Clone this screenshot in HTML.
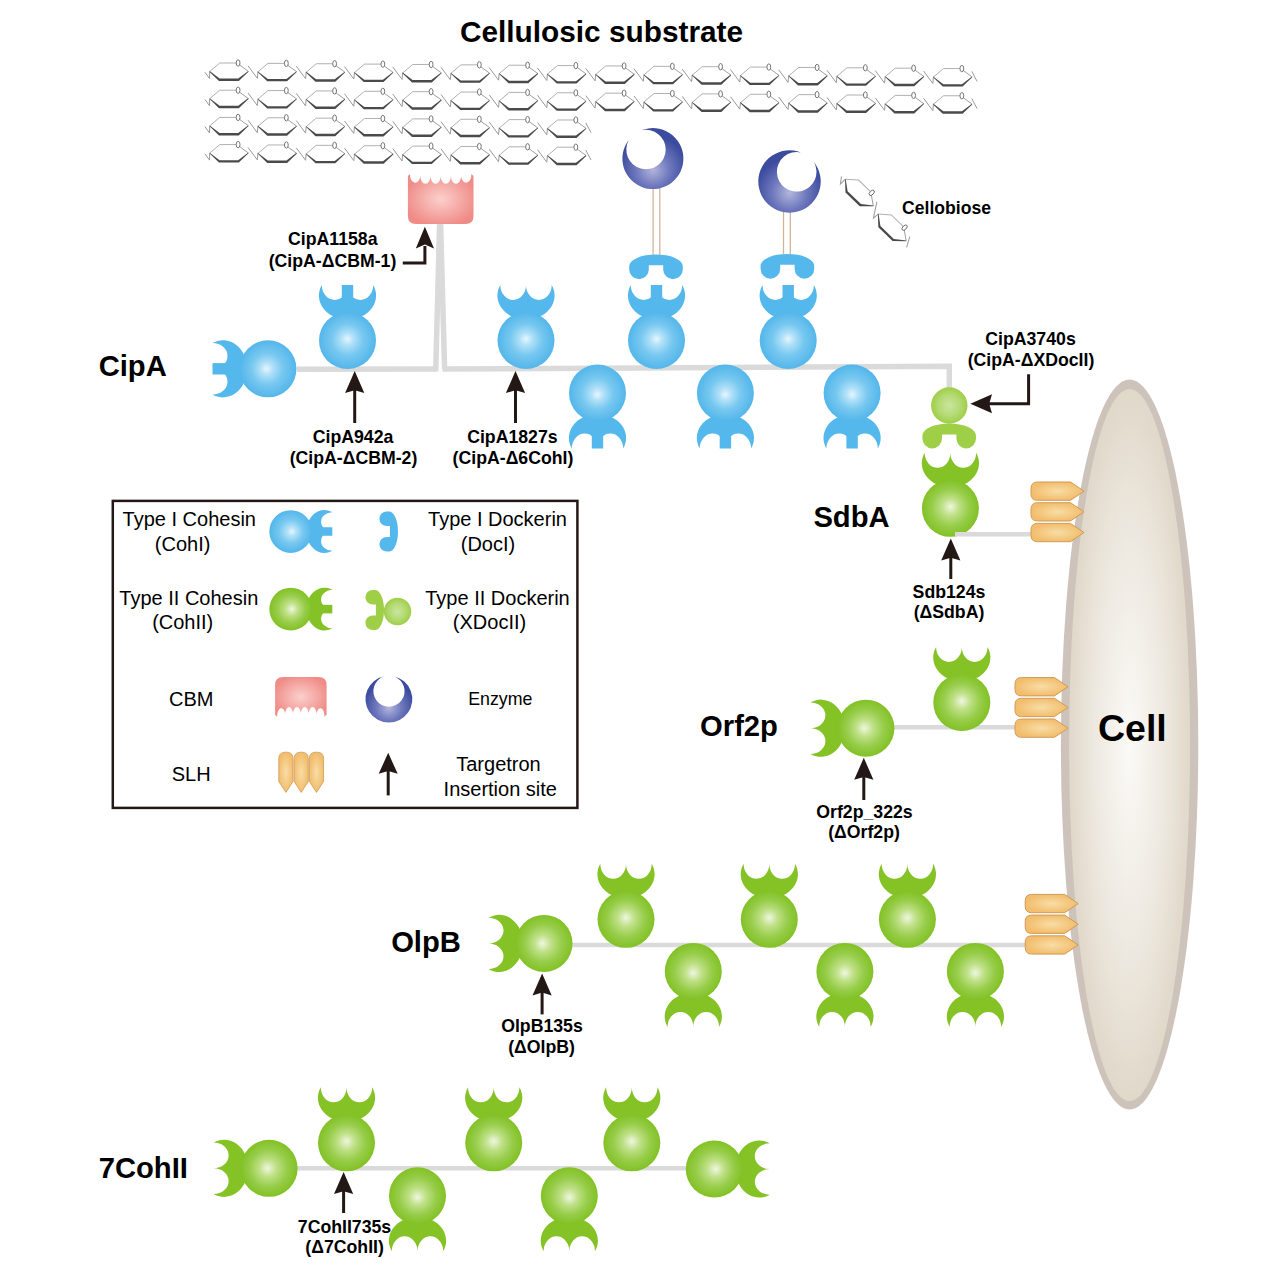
<!DOCTYPE html>
<html><head><meta charset="utf-8"><style>html,body{margin:0;padding:0;background:#fff;font-family:"Liberation Sans",sans-serif}svg{display:block}svg text{font-family:"Liberation Sans",sans-serif}</style></head>
<body><svg width="1267" height="1267" viewBox="0 0 1267 1267" font-family="Liberation Sans, sans-serif">

<defs>
<radialGradient id="gBlue" cx="0.5" cy="0.5" r="0.5" fx="0.5" fy="0.47">
  <stop offset="0" stop-color="#e6f6fe"/>
  <stop offset="0.22" stop-color="#b0e0f8"/>
  <stop offset="0.55" stop-color="#78c8f0"/>
  <stop offset="1" stop-color="#53b6ea"/>
</radialGradient>
<radialGradient id="gGreen" cx="0.5" cy="0.5" r="0.5" fx="0.5" fy="0.47">
  <stop offset="0" stop-color="#eef7e0"/>
  <stop offset="0.3" stop-color="#bfe087"/>
  <stop offset="0.65" stop-color="#97cd4a"/>
  <stop offset="1" stop-color="#82c125"/>
</radialGradient>
<radialGradient id="gX" cx="0.5" cy="0.5" r="0.5">
  <stop offset="0" stop-color="#cbe5a0"/>
  <stop offset="0.6" stop-color="#b3da72"/>
  <stop offset="1" stop-color="#9fce47"/>
</radialGradient>
<radialGradient id="gEnz1" cx="0.5" cy="0.68" r="0.55">
  <stop offset="0" stop-color="#b3b6dc"/>
  <stop offset="0.5" stop-color="#6e78bd"/>
  <stop offset="1" stop-color="#3b4b9e"/>
</radialGradient>
<radialGradient id="gCBM" cx="0.5" cy="0.5" r="0.55">
  <stop offset="0" stop-color="#fbd0cc"/>
  <stop offset="1" stop-color="#f08c88"/>
</radialGradient>
<radialGradient id="gSLH" cx="0.5" cy="0.5" r="0.5">
  <stop offset="0" stop-color="#f8dda6"/>
  <stop offset="1" stop-color="#f2bd6c"/>
</radialGradient>
<radialGradient id="gCell" cx="0.5" cy="0.5" r="0.5">
  <stop offset="0" stop-color="#fbfaf7"/>
  <stop offset="0.6" stop-color="#ede8df"/>
  <stop offset="1" stop-color="#e0d8c9"/>
</radialGradient>
</defs>

<rect width="1267" height="1267" fill="#fff"/>
<text x="601.5" y="42.3" font-size="29.8" font-weight="bold" text-anchor="middle" fill="#000">Cellulosic substrate</text>
<path d="M 204.89999999999998,72.2 L 209.5,78.5 L 209.7,71.5" fill="none" stroke="#9a9a9a" stroke-width="1"/>
<path d="M 209.7,71.5 L 219.7,63.0 L 236.1,63.0" fill="none" stroke="#b0b0b0" stroke-width="1"/><path d="M 239.6,65.0 L 248.29999999999998,71.3" fill="none" stroke="#a0a0a0" stroke-width="1"/><ellipse cx="238.1" cy="63.0" rx="1.9" ry="3.2" fill="none" stroke="#666" stroke-width="0.9"/><path d="M 209.7,71.1 L 219.6,78.6 L 238.2,78.6 L 248.29999999999998,70.89999999999999 L 248.49999999999997,71.7 L 238.79999999999998,81.0 L 219.0,81.0 L 209.6,71.9 Z" fill="#4a4a4a"/>
<path d="M 247.99999999999997,65.8 L 257.29999999999995,78.3 L 258.0,71.3" fill="none" stroke="#9a9a9a" stroke-width="1"/>
<path d="M 257.95,71.87 L 267.95,63.370000000000005 L 284.34999999999997,63.370000000000005" fill="none" stroke="#b0b0b0" stroke-width="1"/><path d="M 287.84999999999997,65.37 L 296.55,71.67" fill="none" stroke="#a0a0a0" stroke-width="1"/><ellipse cx="286.34999999999997" cy="63.370000000000005" rx="1.9" ry="3.2" fill="none" stroke="#666" stroke-width="0.9"/><path d="M 257.95,71.47 L 267.84999999999997,78.97 L 286.45,78.97 L 296.55,71.27 L 296.75,72.07000000000001 L 287.04999999999995,81.37 L 267.25,81.37 L 257.84999999999997,72.27000000000001 Z" fill="#4a4a4a"/>
<path d="M 296.25,66.17 L 305.55,78.67 L 306.25,71.67" fill="none" stroke="#9a9a9a" stroke-width="1"/>
<path d="M 306.2,72.24 L 316.2,63.739999999999995 L 332.59999999999997,63.739999999999995" fill="none" stroke="#b0b0b0" stroke-width="1"/><path d="M 336.09999999999997,65.74 L 344.8,72.03999999999999" fill="none" stroke="#a0a0a0" stroke-width="1"/><ellipse cx="334.59999999999997" cy="63.739999999999995" rx="1.9" ry="3.2" fill="none" stroke="#666" stroke-width="0.9"/><path d="M 306.2,71.83999999999999 L 316.09999999999997,79.33999999999999 L 334.7,79.33999999999999 L 344.8,71.63999999999999 L 345.0,72.44 L 335.29999999999995,81.74 L 315.5,81.74 L 306.09999999999997,72.64 Z" fill="#4a4a4a"/>
<path d="M 344.5,66.53999999999999 L 353.8,79.03999999999999 L 354.5,72.03999999999999" fill="none" stroke="#9a9a9a" stroke-width="1"/>
<path d="M 354.45,72.61 L 364.45,64.11 L 380.84999999999997,64.11" fill="none" stroke="#b0b0b0" stroke-width="1"/><path d="M 384.34999999999997,66.11 L 393.05,72.41" fill="none" stroke="#a0a0a0" stroke-width="1"/><ellipse cx="382.84999999999997" cy="64.11" rx="1.9" ry="3.2" fill="none" stroke="#666" stroke-width="0.9"/><path d="M 354.45,72.21 L 364.34999999999997,79.71 L 382.95,79.71 L 393.05,72.00999999999999 L 393.25,72.81 L 383.54999999999995,82.11 L 363.75,82.11 L 354.34999999999997,73.01 Z" fill="#4a4a4a"/>
<path d="M 392.75,66.91 L 402.05,79.41 L 402.75,72.41" fill="none" stroke="#9a9a9a" stroke-width="1"/>
<path d="M 402.7,72.98 L 412.7,64.48 L 429.09999999999997,64.48" fill="none" stroke="#b0b0b0" stroke-width="1"/><path d="M 432.59999999999997,66.48 L 441.3,72.78" fill="none" stroke="#a0a0a0" stroke-width="1"/><ellipse cx="431.09999999999997" cy="64.48" rx="1.9" ry="3.2" fill="none" stroke="#666" stroke-width="0.9"/><path d="M 402.7,72.58 L 412.59999999999997,80.08 L 431.2,80.08 L 441.3,72.38 L 441.5,73.18 L 431.79999999999995,82.48 L 412.0,82.48 L 402.59999999999997,73.38000000000001 Z" fill="#4a4a4a"/>
<path d="M 441.0,67.28 L 450.3,79.78 L 451.0,72.78" fill="none" stroke="#9a9a9a" stroke-width="1"/>
<path d="M 450.95,73.35 L 460.95,64.85 L 477.34999999999997,64.85" fill="none" stroke="#b0b0b0" stroke-width="1"/><path d="M 480.84999999999997,66.85 L 489.55,73.14999999999999" fill="none" stroke="#a0a0a0" stroke-width="1"/><ellipse cx="479.34999999999997" cy="64.85" rx="1.9" ry="3.2" fill="none" stroke="#666" stroke-width="0.9"/><path d="M 450.95,72.94999999999999 L 460.84999999999997,80.44999999999999 L 479.45,80.44999999999999 L 489.55,72.74999999999999 L 489.75,73.55 L 480.04999999999995,82.85 L 460.25,82.85 L 450.84999999999997,73.75 Z" fill="#4a4a4a"/>
<path d="M 489.25,67.64999999999999 L 498.55,80.14999999999999 L 499.25,73.14999999999999" fill="none" stroke="#9a9a9a" stroke-width="1"/>
<path d="M 499.2,73.72 L 509.2,65.22 L 525.6,65.22" fill="none" stroke="#b0b0b0" stroke-width="1"/><path d="M 529.1,67.22 L 537.8,73.52" fill="none" stroke="#a0a0a0" stroke-width="1"/><ellipse cx="527.6" cy="65.22" rx="1.9" ry="3.2" fill="none" stroke="#666" stroke-width="0.9"/><path d="M 499.2,73.32 L 509.09999999999997,80.82 L 527.7,80.82 L 537.8,73.11999999999999 L 538.0,73.92 L 528.3000000000001,83.22 L 508.5,83.22 L 499.09999999999997,74.12 Z" fill="#4a4a4a"/>
<path d="M 537.5,68.02 L 546.8,80.52 L 547.5,73.52" fill="none" stroke="#9a9a9a" stroke-width="1"/>
<path d="M 547.45,74.09 L 557.45,65.59 L 573.85,65.59" fill="none" stroke="#b0b0b0" stroke-width="1"/><path d="M 577.35,67.59 L 586.0500000000001,73.89" fill="none" stroke="#a0a0a0" stroke-width="1"/><ellipse cx="575.85" cy="65.59" rx="1.9" ry="3.2" fill="none" stroke="#666" stroke-width="0.9"/><path d="M 547.45,73.69 L 557.35,81.19 L 575.95,81.19 L 586.0500000000001,73.49 L 586.2500000000001,74.29 L 576.5500000000001,83.59 L 556.75,83.59 L 547.35,74.49000000000001 Z" fill="#4a4a4a"/>
<path d="M 585.7500000000001,68.39 L 595.0500000000001,80.89 L 595.7500000000001,73.89" fill="none" stroke="#9a9a9a" stroke-width="1"/>
<path d="M 595.7,74.46 L 605.7,65.96 L 622.1,65.96" fill="none" stroke="#b0b0b0" stroke-width="1"/><path d="M 625.6,67.96 L 634.3000000000001,74.25999999999999" fill="none" stroke="#a0a0a0" stroke-width="1"/><ellipse cx="624.1" cy="65.96" rx="1.9" ry="3.2" fill="none" stroke="#666" stroke-width="0.9"/><path d="M 595.7,74.05999999999999 L 605.6,81.55999999999999 L 624.2,81.55999999999999 L 634.3000000000001,73.85999999999999 L 634.5000000000001,74.66 L 624.8000000000001,83.96 L 605.0,83.96 L 595.6,74.86 Z" fill="#4a4a4a"/>
<path d="M 634.0000000000001,68.75999999999999 L 643.3000000000001,81.25999999999999 L 644.0000000000001,74.25999999999999" fill="none" stroke="#9a9a9a" stroke-width="1"/>
<path d="M 643.95,74.83 L 653.95,66.33 L 670.35,66.33" fill="none" stroke="#b0b0b0" stroke-width="1"/><path d="M 673.85,68.33 L 682.5500000000001,74.63" fill="none" stroke="#a0a0a0" stroke-width="1"/><ellipse cx="672.35" cy="66.33" rx="1.9" ry="3.2" fill="none" stroke="#666" stroke-width="0.9"/><path d="M 643.95,74.42999999999999 L 653.85,81.92999999999999 L 672.45,81.92999999999999 L 682.5500000000001,74.22999999999999 L 682.7500000000001,75.03 L 673.0500000000001,84.33 L 653.25,84.33 L 643.85,75.23 Z" fill="#4a4a4a"/>
<path d="M 682.2500000000001,69.13 L 691.5500000000001,81.63 L 692.2500000000001,74.63" fill="none" stroke="#9a9a9a" stroke-width="1"/>
<path d="M 692.2,75.2 L 702.2,66.7 L 718.6,66.7" fill="none" stroke="#b0b0b0" stroke-width="1"/><path d="M 722.1,68.7 L 730.8000000000001,75.0" fill="none" stroke="#a0a0a0" stroke-width="1"/><ellipse cx="720.6" cy="66.7" rx="1.9" ry="3.2" fill="none" stroke="#666" stroke-width="0.9"/><path d="M 692.2,74.8 L 702.1,82.3 L 720.7,82.3 L 730.8000000000001,74.6 L 731.0000000000001,75.4 L 721.3000000000001,84.7 L 701.5,84.7 L 692.1,75.60000000000001 Z" fill="#4a4a4a"/>
<path d="M 730.5000000000001,69.5 L 739.8000000000001,82.0 L 740.5000000000001,75.0" fill="none" stroke="#9a9a9a" stroke-width="1"/>
<path d="M 740.45,75.57 L 750.45,67.07 L 766.85,67.07" fill="none" stroke="#b0b0b0" stroke-width="1"/><path d="M 770.35,69.07 L 779.0500000000001,75.36999999999999" fill="none" stroke="#a0a0a0" stroke-width="1"/><ellipse cx="768.85" cy="67.07" rx="1.9" ry="3.2" fill="none" stroke="#666" stroke-width="0.9"/><path d="M 740.45,75.16999999999999 L 750.35,82.66999999999999 L 768.95,82.66999999999999 L 779.0500000000001,74.96999999999998 L 779.2500000000001,75.77 L 769.5500000000001,85.07 L 749.75,85.07 L 740.35,75.97 Z" fill="#4a4a4a"/>
<path d="M 778.7500000000001,69.86999999999999 L 788.0500000000001,82.36999999999999 L 788.7500000000001,75.36999999999999" fill="none" stroke="#9a9a9a" stroke-width="1"/>
<path d="M 788.7,75.94 L 798.7,67.44 L 815.1,67.44" fill="none" stroke="#b0b0b0" stroke-width="1"/><path d="M 818.6,69.44 L 827.3000000000001,75.74" fill="none" stroke="#a0a0a0" stroke-width="1"/><ellipse cx="817.1" cy="67.44" rx="1.9" ry="3.2" fill="none" stroke="#666" stroke-width="0.9"/><path d="M 788.7,75.53999999999999 L 798.6,83.03999999999999 L 817.2,83.03999999999999 L 827.3000000000001,75.33999999999999 L 827.5000000000001,76.14 L 817.8000000000001,85.44 L 798.0,85.44 L 788.6,76.34 Z" fill="#4a4a4a"/>
<path d="M 827.0000000000001,70.24 L 836.3000000000001,82.74 L 837.0000000000001,75.74" fill="none" stroke="#9a9a9a" stroke-width="1"/>
<path d="M 836.95,76.31 L 846.95,67.81 L 863.35,67.81" fill="none" stroke="#b0b0b0" stroke-width="1"/><path d="M 866.85,69.81 L 875.5500000000001,76.11" fill="none" stroke="#a0a0a0" stroke-width="1"/><ellipse cx="865.35" cy="67.81" rx="1.9" ry="3.2" fill="none" stroke="#666" stroke-width="0.9"/><path d="M 836.95,75.91 L 846.85,83.41 L 865.45,83.41 L 875.5500000000001,75.71 L 875.7500000000001,76.51 L 866.0500000000001,85.81 L 846.25,85.81 L 836.85,76.71000000000001 Z" fill="#4a4a4a"/>
<path d="M 875.2500000000001,70.61 L 884.5500000000001,83.11 L 885.2500000000001,76.11" fill="none" stroke="#9a9a9a" stroke-width="1"/>
<path d="M 885.2,76.68 L 895.2,68.18 L 911.6,68.18" fill="none" stroke="#b0b0b0" stroke-width="1"/><path d="M 915.1,70.18 L 923.8000000000001,76.48" fill="none" stroke="#a0a0a0" stroke-width="1"/><ellipse cx="913.6" cy="68.18" rx="1.9" ry="3.2" fill="none" stroke="#666" stroke-width="0.9"/><path d="M 885.2,76.28 L 895.1,83.78 L 913.7,83.78 L 923.8000000000001,76.08 L 924.0000000000001,76.88000000000001 L 914.3000000000001,86.18 L 894.5,86.18 L 885.1,77.08000000000001 Z" fill="#4a4a4a"/>
<path d="M 923.5000000000001,70.98 L 932.8000000000001,83.48 L 933.5000000000001,76.48" fill="none" stroke="#9a9a9a" stroke-width="1"/>
<path d="M 933.45,77.05 L 943.45,68.55 L 959.85,68.55" fill="none" stroke="#b0b0b0" stroke-width="1"/><path d="M 963.35,70.55 L 972.0500000000001,76.85" fill="none" stroke="#a0a0a0" stroke-width="1"/><ellipse cx="961.85" cy="68.55" rx="1.9" ry="3.2" fill="none" stroke="#666" stroke-width="0.9"/><path d="M 933.45,76.64999999999999 L 943.35,84.14999999999999 L 961.95,84.14999999999999 L 972.0500000000001,76.44999999999999 L 972.2500000000001,77.25 L 962.5500000000001,86.55 L 942.75,86.55 L 933.35,77.45 Z" fill="#4a4a4a"/>
<path d="M 971.7500000000001,71.35 L 977.0500000000001,81.35" fill="none" stroke="#9a9a9a" stroke-width="1"/>
<path d="M 204.89999999999998,99.4 L 209.5,105.7 L 209.7,98.7" fill="none" stroke="#9a9a9a" stroke-width="1"/>
<path d="M 209.7,98.7 L 219.7,90.2 L 236.1,90.2" fill="none" stroke="#b0b0b0" stroke-width="1"/><path d="M 239.6,92.2 L 248.29999999999998,98.5" fill="none" stroke="#a0a0a0" stroke-width="1"/><ellipse cx="238.1" cy="90.2" rx="1.9" ry="3.2" fill="none" stroke="#666" stroke-width="0.9"/><path d="M 209.7,98.3 L 219.6,105.8 L 238.2,105.8 L 248.29999999999998,98.1 L 248.49999999999997,98.9 L 238.79999999999998,108.2 L 219.0,108.2 L 209.6,99.10000000000001 Z" fill="#4a4a4a"/>
<path d="M 247.99999999999997,93.0 L 257.29999999999995,105.5 L 258.0,98.5" fill="none" stroke="#9a9a9a" stroke-width="1"/>
<path d="M 257.95,99.07000000000001 L 267.95,90.57000000000001 L 284.34999999999997,90.57000000000001" fill="none" stroke="#b0b0b0" stroke-width="1"/><path d="M 287.84999999999997,92.57000000000001 L 296.55,98.87" fill="none" stroke="#a0a0a0" stroke-width="1"/><ellipse cx="286.34999999999997" cy="90.57000000000001" rx="1.9" ry="3.2" fill="none" stroke="#666" stroke-width="0.9"/><path d="M 257.95,98.67 L 267.84999999999997,106.17 L 286.45,106.17 L 296.55,98.47 L 296.75,99.27000000000001 L 287.04999999999995,108.57000000000001 L 267.25,108.57000000000001 L 257.84999999999997,99.47000000000001 Z" fill="#4a4a4a"/>
<path d="M 296.25,93.37 L 305.55,105.87 L 306.25,98.87" fill="none" stroke="#9a9a9a" stroke-width="1"/>
<path d="M 306.2,99.44 L 316.2,90.94 L 332.59999999999997,90.94" fill="none" stroke="#b0b0b0" stroke-width="1"/><path d="M 336.09999999999997,92.94 L 344.8,99.24" fill="none" stroke="#a0a0a0" stroke-width="1"/><ellipse cx="334.59999999999997" cy="90.94" rx="1.9" ry="3.2" fill="none" stroke="#666" stroke-width="0.9"/><path d="M 306.2,99.03999999999999 L 316.09999999999997,106.53999999999999 L 334.7,106.53999999999999 L 344.8,98.83999999999999 L 345.0,99.64 L 335.29999999999995,108.94 L 315.5,108.94 L 306.09999999999997,99.84 Z" fill="#4a4a4a"/>
<path d="M 344.5,93.74 L 353.8,106.24 L 354.5,99.24" fill="none" stroke="#9a9a9a" stroke-width="1"/>
<path d="M 354.45,99.81 L 364.45,91.31 L 380.84999999999997,91.31" fill="none" stroke="#b0b0b0" stroke-width="1"/><path d="M 384.34999999999997,93.31 L 393.05,99.61" fill="none" stroke="#a0a0a0" stroke-width="1"/><ellipse cx="382.84999999999997" cy="91.31" rx="1.9" ry="3.2" fill="none" stroke="#666" stroke-width="0.9"/><path d="M 354.45,99.41 L 364.34999999999997,106.91 L 382.95,106.91 L 393.05,99.21 L 393.25,100.01 L 383.54999999999995,109.31 L 363.75,109.31 L 354.34999999999997,100.21000000000001 Z" fill="#4a4a4a"/>
<path d="M 392.75,94.11 L 402.05,106.61 L 402.75,99.61" fill="none" stroke="#9a9a9a" stroke-width="1"/>
<path d="M 402.7,100.18 L 412.7,91.68 L 429.09999999999997,91.68" fill="none" stroke="#b0b0b0" stroke-width="1"/><path d="M 432.59999999999997,93.68 L 441.3,99.98" fill="none" stroke="#a0a0a0" stroke-width="1"/><ellipse cx="431.09999999999997" cy="91.68" rx="1.9" ry="3.2" fill="none" stroke="#666" stroke-width="0.9"/><path d="M 402.7,99.78 L 412.59999999999997,107.28 L 431.2,107.28 L 441.3,99.58 L 441.5,100.38000000000001 L 431.79999999999995,109.68 L 412.0,109.68 L 402.59999999999997,100.58000000000001 Z" fill="#4a4a4a"/>
<path d="M 441.0,94.48 L 450.3,106.98 L 451.0,99.98" fill="none" stroke="#9a9a9a" stroke-width="1"/>
<path d="M 450.95,100.55 L 460.95,92.05 L 477.34999999999997,92.05" fill="none" stroke="#b0b0b0" stroke-width="1"/><path d="M 480.84999999999997,94.05 L 489.55,100.35" fill="none" stroke="#a0a0a0" stroke-width="1"/><ellipse cx="479.34999999999997" cy="92.05" rx="1.9" ry="3.2" fill="none" stroke="#666" stroke-width="0.9"/><path d="M 450.95,100.14999999999999 L 460.84999999999997,107.64999999999999 L 479.45,107.64999999999999 L 489.55,99.94999999999999 L 489.75,100.75 L 480.04999999999995,110.05 L 460.25,110.05 L 450.84999999999997,100.95 Z" fill="#4a4a4a"/>
<path d="M 489.25,94.85 L 498.55,107.35 L 499.25,100.35" fill="none" stroke="#9a9a9a" stroke-width="1"/>
<path d="M 499.2,100.92 L 509.2,92.42 L 525.6,92.42" fill="none" stroke="#b0b0b0" stroke-width="1"/><path d="M 529.1,94.42 L 537.8,100.72" fill="none" stroke="#a0a0a0" stroke-width="1"/><ellipse cx="527.6" cy="92.42" rx="1.9" ry="3.2" fill="none" stroke="#666" stroke-width="0.9"/><path d="M 499.2,100.52 L 509.09999999999997,108.02 L 527.7,108.02 L 537.8,100.32 L 538.0,101.12 L 528.3000000000001,110.42 L 508.5,110.42 L 499.09999999999997,101.32000000000001 Z" fill="#4a4a4a"/>
<path d="M 537.5,95.22 L 546.8,107.72 L 547.5,100.72" fill="none" stroke="#9a9a9a" stroke-width="1"/>
<path d="M 547.45,101.29 L 557.45,92.79 L 573.85,92.79" fill="none" stroke="#b0b0b0" stroke-width="1"/><path d="M 577.35,94.79 L 586.0500000000001,101.09" fill="none" stroke="#a0a0a0" stroke-width="1"/><ellipse cx="575.85" cy="92.79" rx="1.9" ry="3.2" fill="none" stroke="#666" stroke-width="0.9"/><path d="M 547.45,100.89 L 557.35,108.39 L 575.95,108.39 L 586.0500000000001,100.69 L 586.2500000000001,101.49000000000001 L 576.5500000000001,110.79 L 556.75,110.79 L 547.35,101.69000000000001 Z" fill="#4a4a4a"/>
<path d="M 585.7500000000001,95.59 L 595.0500000000001,108.09 L 595.7500000000001,101.09" fill="none" stroke="#9a9a9a" stroke-width="1"/>
<path d="M 595.7,101.66 L 605.7,93.16 L 622.1,93.16" fill="none" stroke="#b0b0b0" stroke-width="1"/><path d="M 625.6,95.16 L 634.3000000000001,101.46" fill="none" stroke="#a0a0a0" stroke-width="1"/><ellipse cx="624.1" cy="93.16" rx="1.9" ry="3.2" fill="none" stroke="#666" stroke-width="0.9"/><path d="M 595.7,101.25999999999999 L 605.6,108.75999999999999 L 624.2,108.75999999999999 L 634.3000000000001,101.05999999999999 L 634.5000000000001,101.86 L 624.8000000000001,111.16 L 605.0,111.16 L 595.6,102.06 Z" fill="#4a4a4a"/>
<path d="M 634.0000000000001,95.96 L 643.3000000000001,108.46 L 644.0000000000001,101.46" fill="none" stroke="#9a9a9a" stroke-width="1"/>
<path d="M 643.95,102.03 L 653.95,93.53 L 670.35,93.53" fill="none" stroke="#b0b0b0" stroke-width="1"/><path d="M 673.85,95.53 L 682.5500000000001,101.83" fill="none" stroke="#a0a0a0" stroke-width="1"/><ellipse cx="672.35" cy="93.53" rx="1.9" ry="3.2" fill="none" stroke="#666" stroke-width="0.9"/><path d="M 643.95,101.63 L 653.85,109.13 L 672.45,109.13 L 682.5500000000001,101.42999999999999 L 682.7500000000001,102.23 L 673.0500000000001,111.53 L 653.25,111.53 L 643.85,102.43 Z" fill="#4a4a4a"/>
<path d="M 682.2500000000001,96.33 L 691.5500000000001,108.83 L 692.2500000000001,101.83" fill="none" stroke="#9a9a9a" stroke-width="1"/>
<path d="M 692.2,102.4 L 702.2,93.9 L 718.6,93.9" fill="none" stroke="#b0b0b0" stroke-width="1"/><path d="M 722.1,95.9 L 730.8000000000001,102.2" fill="none" stroke="#a0a0a0" stroke-width="1"/><ellipse cx="720.6" cy="93.9" rx="1.9" ry="3.2" fill="none" stroke="#666" stroke-width="0.9"/><path d="M 692.2,102.0 L 702.1,109.5 L 720.7,109.5 L 730.8000000000001,101.8 L 731.0000000000001,102.60000000000001 L 721.3000000000001,111.9 L 701.5,111.9 L 692.1,102.80000000000001 Z" fill="#4a4a4a"/>
<path d="M 730.5000000000001,96.7 L 739.8000000000001,109.2 L 740.5000000000001,102.2" fill="none" stroke="#9a9a9a" stroke-width="1"/>
<path d="M 740.45,102.77000000000001 L 750.45,94.27000000000001 L 766.85,94.27000000000001" fill="none" stroke="#b0b0b0" stroke-width="1"/><path d="M 770.35,96.27000000000001 L 779.0500000000001,102.57000000000001" fill="none" stroke="#a0a0a0" stroke-width="1"/><ellipse cx="768.85" cy="94.27000000000001" rx="1.9" ry="3.2" fill="none" stroke="#666" stroke-width="0.9"/><path d="M 740.45,102.37 L 750.35,109.87 L 768.95,109.87 L 779.0500000000001,102.17 L 779.2500000000001,102.97000000000001 L 769.5500000000001,112.27000000000001 L 749.75,112.27000000000001 L 740.35,103.17000000000002 Z" fill="#4a4a4a"/>
<path d="M 778.7500000000001,97.07000000000001 L 788.0500000000001,109.57000000000001 L 788.7500000000001,102.57000000000001" fill="none" stroke="#9a9a9a" stroke-width="1"/>
<path d="M 788.7,103.14 L 798.7,94.64 L 815.1,94.64" fill="none" stroke="#b0b0b0" stroke-width="1"/><path d="M 818.6,96.64 L 827.3000000000001,102.94" fill="none" stroke="#a0a0a0" stroke-width="1"/><ellipse cx="817.1" cy="94.64" rx="1.9" ry="3.2" fill="none" stroke="#666" stroke-width="0.9"/><path d="M 788.7,102.74 L 798.6,110.24 L 817.2,110.24 L 827.3000000000001,102.53999999999999 L 827.5000000000001,103.34 L 817.8000000000001,112.64 L 798.0,112.64 L 788.6,103.54 Z" fill="#4a4a4a"/>
<path d="M 827.0000000000001,97.44 L 836.3000000000001,109.94 L 837.0000000000001,102.94" fill="none" stroke="#9a9a9a" stroke-width="1"/>
<path d="M 836.95,103.51 L 846.95,95.01 L 863.35,95.01" fill="none" stroke="#b0b0b0" stroke-width="1"/><path d="M 866.85,97.01 L 875.5500000000001,103.31" fill="none" stroke="#a0a0a0" stroke-width="1"/><ellipse cx="865.35" cy="95.01" rx="1.9" ry="3.2" fill="none" stroke="#666" stroke-width="0.9"/><path d="M 836.95,103.11 L 846.85,110.61 L 865.45,110.61 L 875.5500000000001,102.91 L 875.7500000000001,103.71000000000001 L 866.0500000000001,113.01 L 846.25,113.01 L 836.85,103.91000000000001 Z" fill="#4a4a4a"/>
<path d="M 875.2500000000001,97.81 L 884.5500000000001,110.31 L 885.2500000000001,103.31" fill="none" stroke="#9a9a9a" stroke-width="1"/>
<path d="M 885.2,103.88 L 895.2,95.38 L 911.6,95.38" fill="none" stroke="#b0b0b0" stroke-width="1"/><path d="M 915.1,97.38 L 923.8000000000001,103.67999999999999" fill="none" stroke="#a0a0a0" stroke-width="1"/><ellipse cx="913.6" cy="95.38" rx="1.9" ry="3.2" fill="none" stroke="#666" stroke-width="0.9"/><path d="M 885.2,103.47999999999999 L 895.1,110.97999999999999 L 913.7,110.97999999999999 L 923.8000000000001,103.27999999999999 L 924.0000000000001,104.08 L 914.3000000000001,113.38 L 894.5,113.38 L 885.1,104.28 Z" fill="#4a4a4a"/>
<path d="M 923.5000000000001,98.17999999999999 L 932.8000000000001,110.67999999999999 L 933.5000000000001,103.67999999999999" fill="none" stroke="#9a9a9a" stroke-width="1"/>
<path d="M 933.45,104.25 L 943.45,95.75 L 959.85,95.75" fill="none" stroke="#b0b0b0" stroke-width="1"/><path d="M 963.35,97.75 L 972.0500000000001,104.05" fill="none" stroke="#a0a0a0" stroke-width="1"/><ellipse cx="961.85" cy="95.75" rx="1.9" ry="3.2" fill="none" stroke="#666" stroke-width="0.9"/><path d="M 933.45,103.85 L 943.35,111.35 L 961.95,111.35 L 972.0500000000001,103.64999999999999 L 972.2500000000001,104.45 L 962.5500000000001,113.75 L 942.75,113.75 L 933.35,104.65 Z" fill="#4a4a4a"/>
<path d="M 971.7500000000001,98.55 L 977.0500000000001,108.55" fill="none" stroke="#9a9a9a" stroke-width="1"/>
<path d="M 204.89999999999998,126.60000000000001 L 209.5,132.9 L 209.7,125.9" fill="none" stroke="#9a9a9a" stroke-width="1"/>
<path d="M 209.7,125.9 L 219.7,117.4 L 236.1,117.4" fill="none" stroke="#b0b0b0" stroke-width="1"/><path d="M 239.6,119.4 L 248.29999999999998,125.7" fill="none" stroke="#a0a0a0" stroke-width="1"/><ellipse cx="238.1" cy="117.4" rx="1.9" ry="3.2" fill="none" stroke="#666" stroke-width="0.9"/><path d="M 209.7,125.5 L 219.6,133.00000000000003 L 238.2,133.00000000000003 L 248.29999999999998,125.3 L 248.49999999999997,126.10000000000001 L 238.79999999999998,135.4 L 219.0,135.4 L 209.6,126.30000000000001 Z" fill="#4a4a4a"/>
<path d="M 247.99999999999997,120.2 L 257.29999999999995,132.7 L 258.0,125.7" fill="none" stroke="#9a9a9a" stroke-width="1"/>
<path d="M 257.95,126.27000000000001 L 267.95,117.77000000000001 L 284.34999999999997,117.77000000000001" fill="none" stroke="#b0b0b0" stroke-width="1"/><path d="M 287.84999999999997,119.77000000000001 L 296.55,126.07000000000001" fill="none" stroke="#a0a0a0" stroke-width="1"/><ellipse cx="286.34999999999997" cy="117.77000000000001" rx="1.9" ry="3.2" fill="none" stroke="#666" stroke-width="0.9"/><path d="M 257.95,125.87 L 267.84999999999997,133.37000000000003 L 286.45,133.37000000000003 L 296.55,125.67 L 296.75,126.47000000000001 L 287.04999999999995,135.77 L 267.25,135.77 L 257.84999999999997,126.67000000000002 Z" fill="#4a4a4a"/>
<path d="M 296.25,120.57000000000001 L 305.55,133.07 L 306.25,126.07000000000001" fill="none" stroke="#9a9a9a" stroke-width="1"/>
<path d="M 306.2,126.64 L 316.2,118.14 L 332.59999999999997,118.14" fill="none" stroke="#b0b0b0" stroke-width="1"/><path d="M 336.09999999999997,120.14 L 344.8,126.44" fill="none" stroke="#a0a0a0" stroke-width="1"/><ellipse cx="334.59999999999997" cy="118.14" rx="1.9" ry="3.2" fill="none" stroke="#666" stroke-width="0.9"/><path d="M 306.2,126.24 L 316.09999999999997,133.74 L 334.7,133.74 L 344.8,126.03999999999999 L 345.0,126.84 L 335.29999999999995,136.14 L 315.5,136.14 L 306.09999999999997,127.04 Z" fill="#4a4a4a"/>
<path d="M 344.5,120.94 L 353.8,133.44 L 354.5,126.44" fill="none" stroke="#9a9a9a" stroke-width="1"/>
<path d="M 354.45,127.01 L 364.45,118.51 L 380.84999999999997,118.51" fill="none" stroke="#b0b0b0" stroke-width="1"/><path d="M 384.34999999999997,120.51 L 393.05,126.81" fill="none" stroke="#a0a0a0" stroke-width="1"/><ellipse cx="382.84999999999997" cy="118.51" rx="1.9" ry="3.2" fill="none" stroke="#666" stroke-width="0.9"/><path d="M 354.45,126.61 L 364.34999999999997,134.11 L 382.95,134.11 L 393.05,126.41 L 393.25,127.21000000000001 L 383.54999999999995,136.51 L 363.75,136.51 L 354.34999999999997,127.41000000000001 Z" fill="#4a4a4a"/>
<path d="M 392.75,121.31 L 402.05,133.81 L 402.75,126.81" fill="none" stroke="#9a9a9a" stroke-width="1"/>
<path d="M 402.7,127.38000000000001 L 412.7,118.88000000000001 L 429.09999999999997,118.88000000000001" fill="none" stroke="#b0b0b0" stroke-width="1"/><path d="M 432.59999999999997,120.88000000000001 L 441.3,127.18" fill="none" stroke="#a0a0a0" stroke-width="1"/><ellipse cx="431.09999999999997" cy="118.88000000000001" rx="1.9" ry="3.2" fill="none" stroke="#666" stroke-width="0.9"/><path d="M 402.7,126.98 L 412.59999999999997,134.48000000000002 L 431.2,134.48000000000002 L 441.3,126.78 L 441.5,127.58000000000001 L 431.79999999999995,136.88 L 412.0,136.88 L 402.59999999999997,127.78000000000002 Z" fill="#4a4a4a"/>
<path d="M 441.0,121.68 L 450.3,134.18 L 451.0,127.18" fill="none" stroke="#9a9a9a" stroke-width="1"/>
<path d="M 450.95,127.75 L 460.95,119.25 L 477.34999999999997,119.25" fill="none" stroke="#b0b0b0" stroke-width="1"/><path d="M 480.84999999999997,121.25 L 489.55,127.55" fill="none" stroke="#a0a0a0" stroke-width="1"/><ellipse cx="479.34999999999997" cy="119.25" rx="1.9" ry="3.2" fill="none" stroke="#666" stroke-width="0.9"/><path d="M 450.95,127.35 L 460.84999999999997,134.85000000000002 L 479.45,134.85000000000002 L 489.55,127.14999999999999 L 489.75,127.95 L 480.04999999999995,137.25 L 460.25,137.25 L 450.84999999999997,128.15 Z" fill="#4a4a4a"/>
<path d="M 489.25,122.05 L 498.55,134.55 L 499.25,127.55" fill="none" stroke="#9a9a9a" stroke-width="1"/>
<path d="M 499.2,128.12 L 509.2,119.62 L 525.6,119.62" fill="none" stroke="#b0b0b0" stroke-width="1"/><path d="M 529.1,121.62 L 537.8,127.92" fill="none" stroke="#a0a0a0" stroke-width="1"/><ellipse cx="527.6" cy="119.62" rx="1.9" ry="3.2" fill="none" stroke="#666" stroke-width="0.9"/><path d="M 499.2,127.72 L 509.09999999999997,135.22000000000003 L 527.7,135.22000000000003 L 537.8,127.52 L 538.0,128.32 L 528.3000000000001,137.62 L 508.5,137.62 L 499.09999999999997,128.52 Z" fill="#4a4a4a"/>
<path d="M 537.5,122.42 L 546.8,134.92000000000002 L 547.5,127.92" fill="none" stroke="#9a9a9a" stroke-width="1"/>
<path d="M 547.45,128.49 L 557.45,119.99000000000001 L 573.85,119.99000000000001" fill="none" stroke="#b0b0b0" stroke-width="1"/><path d="M 577.35,121.99000000000001 L 586.0500000000001,128.29000000000002" fill="none" stroke="#a0a0a0" stroke-width="1"/><ellipse cx="575.85" cy="119.99000000000001" rx="1.9" ry="3.2" fill="none" stroke="#666" stroke-width="0.9"/><path d="M 547.45,128.09 L 557.35,135.59000000000003 L 575.95,135.59000000000003 L 586.0500000000001,127.89000000000001 L 586.2500000000001,128.69000000000003 L 576.5500000000001,137.99 L 556.75,137.99 L 547.35,128.89000000000001 Z" fill="#4a4a4a"/>
<path d="M 585.7500000000001,122.79000000000002 L 591.0500000000001,132.79000000000002" fill="none" stroke="#9a9a9a" stroke-width="1"/>
<path d="M 204.89999999999998,153.79999999999998 L 209.5,160.1 L 209.7,153.1" fill="none" stroke="#9a9a9a" stroke-width="1"/>
<path d="M 209.7,153.1 L 219.7,144.6 L 236.1,144.6" fill="none" stroke="#b0b0b0" stroke-width="1"/><path d="M 239.6,146.6 L 248.29999999999998,152.9" fill="none" stroke="#a0a0a0" stroke-width="1"/><ellipse cx="238.1" cy="144.6" rx="1.9" ry="3.2" fill="none" stroke="#666" stroke-width="0.9"/><path d="M 209.7,152.7 L 219.6,160.20000000000002 L 238.2,160.20000000000002 L 248.29999999999998,152.5 L 248.49999999999997,153.3 L 238.79999999999998,162.6 L 219.0,162.6 L 209.6,153.5 Z" fill="#4a4a4a"/>
<path d="M 247.99999999999997,147.4 L 257.29999999999995,159.9 L 258.0,152.9" fill="none" stroke="#9a9a9a" stroke-width="1"/>
<path d="M 257.95,153.47 L 267.95,144.97 L 284.34999999999997,144.97" fill="none" stroke="#b0b0b0" stroke-width="1"/><path d="M 287.84999999999997,146.97 L 296.55,153.27" fill="none" stroke="#a0a0a0" stroke-width="1"/><ellipse cx="286.34999999999997" cy="144.97" rx="1.9" ry="3.2" fill="none" stroke="#666" stroke-width="0.9"/><path d="M 257.95,153.07 L 267.84999999999997,160.57000000000002 L 286.45,160.57000000000002 L 296.55,152.87 L 296.75,153.67000000000002 L 287.04999999999995,162.97 L 267.25,162.97 L 257.84999999999997,153.87 Z" fill="#4a4a4a"/>
<path d="M 296.25,147.77 L 305.55,160.27 L 306.25,153.27" fill="none" stroke="#9a9a9a" stroke-width="1"/>
<path d="M 306.2,153.84 L 316.2,145.34 L 332.59999999999997,145.34" fill="none" stroke="#b0b0b0" stroke-width="1"/><path d="M 336.09999999999997,147.34 L 344.8,153.64000000000001" fill="none" stroke="#a0a0a0" stroke-width="1"/><ellipse cx="334.59999999999997" cy="145.34" rx="1.9" ry="3.2" fill="none" stroke="#666" stroke-width="0.9"/><path d="M 306.2,153.44 L 316.09999999999997,160.94000000000003 L 334.7,160.94000000000003 L 344.8,153.24 L 345.0,154.04000000000002 L 335.29999999999995,163.34 L 315.5,163.34 L 306.09999999999997,154.24 Z" fill="#4a4a4a"/>
<path d="M 344.5,148.14000000000001 L 353.8,160.64000000000001 L 354.5,153.64000000000001" fill="none" stroke="#9a9a9a" stroke-width="1"/>
<path d="M 354.45,154.21 L 364.45,145.71 L 380.84999999999997,145.71" fill="none" stroke="#b0b0b0" stroke-width="1"/><path d="M 384.34999999999997,147.71 L 393.05,154.01000000000002" fill="none" stroke="#a0a0a0" stroke-width="1"/><ellipse cx="382.84999999999997" cy="145.71" rx="1.9" ry="3.2" fill="none" stroke="#666" stroke-width="0.9"/><path d="M 354.45,153.81 L 364.34999999999997,161.31000000000003 L 382.95,161.31000000000003 L 393.05,153.61 L 393.25,154.41000000000003 L 383.54999999999995,163.71 L 363.75,163.71 L 354.34999999999997,154.61 Z" fill="#4a4a4a"/>
<path d="M 392.75,148.51000000000002 L 402.05,161.01000000000002 L 402.75,154.01000000000002" fill="none" stroke="#9a9a9a" stroke-width="1"/>
<path d="M 402.7,154.57999999999998 L 412.7,146.07999999999998 L 429.09999999999997,146.07999999999998" fill="none" stroke="#b0b0b0" stroke-width="1"/><path d="M 432.59999999999997,148.07999999999998 L 441.3,154.38" fill="none" stroke="#a0a0a0" stroke-width="1"/><ellipse cx="431.09999999999997" cy="146.07999999999998" rx="1.9" ry="3.2" fill="none" stroke="#666" stroke-width="0.9"/><path d="M 402.7,154.17999999999998 L 412.59999999999997,161.68 L 431.2,161.68 L 441.3,153.98 L 441.5,154.78 L 431.79999999999995,164.07999999999998 L 412.0,164.07999999999998 L 402.59999999999997,154.98 Z" fill="#4a4a4a"/>
<path d="M 441.0,148.88 L 450.3,161.38 L 451.0,154.38" fill="none" stroke="#9a9a9a" stroke-width="1"/>
<path d="M 450.95,154.95 L 460.95,146.45 L 477.34999999999997,146.45" fill="none" stroke="#b0b0b0" stroke-width="1"/><path d="M 480.84999999999997,148.45 L 489.55,154.75" fill="none" stroke="#a0a0a0" stroke-width="1"/><ellipse cx="479.34999999999997" cy="146.45" rx="1.9" ry="3.2" fill="none" stroke="#666" stroke-width="0.9"/><path d="M 450.95,154.54999999999998 L 460.84999999999997,162.05 L 479.45,162.05 L 489.55,154.35 L 489.75,155.15 L 480.04999999999995,164.45 L 460.25,164.45 L 450.84999999999997,155.35 Z" fill="#4a4a4a"/>
<path d="M 489.25,149.25 L 498.55,161.75 L 499.25,154.75" fill="none" stroke="#9a9a9a" stroke-width="1"/>
<path d="M 499.2,155.32 L 509.2,146.82 L 525.6,146.82" fill="none" stroke="#b0b0b0" stroke-width="1"/><path d="M 529.1,148.82 L 537.8,155.12" fill="none" stroke="#a0a0a0" stroke-width="1"/><ellipse cx="527.6" cy="146.82" rx="1.9" ry="3.2" fill="none" stroke="#666" stroke-width="0.9"/><path d="M 499.2,154.92 L 509.09999999999997,162.42000000000002 L 527.7,162.42000000000002 L 537.8,154.72 L 538.0,155.52 L 528.3000000000001,164.82 L 508.5,164.82 L 499.09999999999997,155.72 Z" fill="#4a4a4a"/>
<path d="M 537.5,149.62 L 546.8,162.12 L 547.5,155.12" fill="none" stroke="#9a9a9a" stroke-width="1"/>
<path d="M 547.45,155.69 L 557.45,147.19 L 573.85,147.19" fill="none" stroke="#b0b0b0" stroke-width="1"/><path d="M 577.35,149.19 L 586.0500000000001,155.49" fill="none" stroke="#a0a0a0" stroke-width="1"/><ellipse cx="575.85" cy="147.19" rx="1.9" ry="3.2" fill="none" stroke="#666" stroke-width="0.9"/><path d="M 547.45,155.29 L 557.35,162.79000000000002 L 575.95,162.79000000000002 L 586.0500000000001,155.09 L 586.2500000000001,155.89000000000001 L 576.5500000000001,165.19 L 556.75,165.19 L 547.35,156.09 Z" fill="#4a4a4a"/>
<path d="M 585.7500000000001,149.99 L 591.0500000000001,159.99" fill="none" stroke="#9a9a9a" stroke-width="1"/>
<polyline points="297,369.3 436,369.1" fill="none" stroke="#dadada" stroke-width="5.5"/>
<line x1="435.7" y1="371.5" x2="439.6" y2="224" stroke="#dadada" stroke-width="5.5"/>
<line x1="444.6" y1="369" x2="440.6" y2="224" stroke="#dadada" stroke-width="5.5"/>
<polyline points="442.5,369 949.3,366.3 949.3,390" fill="none" stroke="#dadada" stroke-width="5.5"/>
<path d="M 407.9,176 L 410.09999999999997,174 A 5.1 7.4 0 0 0 420.29999999999995,176.3 A 5.1 7.4 0 0 0 430.49999999999994,176.3 A 5.1 7.4 0 0 0 440.7,176.3 A 5.1 7.4 0 0 0 450.9,176.3 A 5.1 7.4 0 0 0 461.09999999999997,176.3 A 5.1 7.4 0 0 0 471.29999999999995,174 L 473.5,176 L 473.5,216 Q 473.5,224 465.5,224 L 415.9,224 Q 407.9,224 407.9,216 Z" fill="url(#gCBM)"/>
<g transform="translate(268,368.8) rotate(-90) scale(1.0)"><path d="M -25.7,-55.5 A 12.85 15 0 0 0 0,-55.5 A 12.85 15 0 0 0 25.7,-55.5 A 28.6 24 0 1 1 -25.7,-55.5 Z" fill="#55b8ec"/><rect x="-5.7" y="-55.5" width="11.4" height="16" fill="#55b8ec"/><circle r="28.5" fill="url(#gBlue)"/></g>
<g transform="translate(347.5,340.5) rotate(0) scale(1.0)"><path d="M -25.7,-55.5 A 12.85 15 0 0 0 0,-55.5 A 12.85 15 0 0 0 25.7,-55.5 A 28.6 24 0 1 1 -25.7,-55.5 Z" fill="#55b8ec"/><rect x="-5.7" y="-55.5" width="11.4" height="16" fill="#55b8ec"/><circle r="28.5" fill="url(#gBlue)"/></g>
<g transform="translate(526,340.5) rotate(0) scale(1.0)"><path d="M -25.7,-55.5 A 12.85 15 0 0 0 0,-55.5 A 12.85 15 0 0 0 25.7,-55.5 A 28.6 24 0 1 1 -25.7,-55.5 Z" fill="#55b8ec"/><circle r="28.5" fill="url(#gBlue)"/></g>
<g transform="translate(656.5,340.5) rotate(0) scale(1.0)"><path d="M -25.7,-55.5 A 12.85 15 0 0 0 0,-55.5 A 12.85 15 0 0 0 25.7,-55.5 A 28.6 24 0 1 1 -25.7,-55.5 Z" fill="#55b8ec"/><rect x="-5.7" y="-55.5" width="11.4" height="16" fill="#55b8ec"/><circle r="28.5" fill="url(#gBlue)"/></g>
<g transform="translate(788.2,340.5) rotate(0) scale(1.0)"><path d="M -25.7,-55.5 A 12.85 15 0 0 0 0,-55.5 A 12.85 15 0 0 0 25.7,-55.5 A 28.6 24 0 1 1 -25.7,-55.5 Z" fill="#55b8ec"/><rect x="-5.7" y="-55.5" width="11.4" height="16" fill="#55b8ec"/><circle r="28.5" fill="url(#gBlue)"/></g>
<g transform="translate(597.5,393) rotate(180) scale(1.0)"><path d="M -25.7,-55.5 A 12.85 15 0 0 0 0,-55.5 A 12.85 15 0 0 0 25.7,-55.5 A 28.6 24 0 1 1 -25.7,-55.5 Z" fill="#55b8ec"/><rect x="-5.7" y="-55.5" width="11.4" height="16" fill="#55b8ec"/><circle r="28.5" fill="url(#gBlue)"/></g>
<g transform="translate(725.4,393) rotate(180) scale(1.0)"><path d="M -25.7,-55.5 A 12.85 15 0 0 0 0,-55.5 A 12.85 15 0 0 0 25.7,-55.5 A 28.6 24 0 1 1 -25.7,-55.5 Z" fill="#55b8ec"/><rect x="-5.7" y="-55.5" width="11.4" height="16" fill="#55b8ec"/><circle r="28.5" fill="url(#gBlue)"/></g>
<g transform="translate(852.1,393) rotate(180) scale(1.0)"><path d="M -25.7,-55.5 A 12.85 15 0 0 0 0,-55.5 A 12.85 15 0 0 0 25.7,-55.5 A 28.6 24 0 1 1 -25.7,-55.5 Z" fill="#55b8ec"/><rect x="-5.7" y="-55.5" width="11.4" height="16" fill="#55b8ec"/><circle r="28.5" fill="url(#gBlue)"/></g>
<g transform="translate(656,254.4) rotate(0) scale(1.0,1.0)"><path d="M -7.2,10.8 L 7.2,10.8 L 7.2,15 A 9.8 9.8 0 0 0 26.8,15 L 26.8,12 A 26.8 12 0 0 0 -26.8,12 L -26.8,15 A 9.8 9.8 0 0 0 -7.2,15 Z" fill="#55b8ec"/></g>
<g transform="translate(787.4,253.9) rotate(0) scale(1.0,1.0)"><path d="M -7.2,10.8 L 7.2,10.8 L 7.2,15 A 9.8 9.8 0 0 0 26.8,15 L 26.8,12 A 26.8 12 0 0 0 -26.8,12 L -26.8,15 A 9.8 9.8 0 0 0 -7.2,15 Z" fill="#55b8ec"/></g>
<line x1="653.1" y1="188" x2="653.1" y2="255" stroke="#d2b49b" stroke-width="1.3"/>
<line x1="659.8" y1="188" x2="659.8" y2="255" stroke="#d2b49b" stroke-width="1.3"/>
<line x1="783.5" y1="211" x2="783.5" y2="254" stroke="#d2b49b" stroke-width="1.3"/>
<line x1="790.3" y1="211" x2="790.3" y2="254" stroke="#d2b49b" stroke-width="1.3"/>
<path fill="url(#gEnz1)" d="M 641.44,130.34 A 30.5 30.5 0 1 1 628.78,139.94 A 19.7 19.7 0 1 0 641.44,130.34 Z"/>
<path fill="url(#gEnz1)" d="M 814.02,162.21 A 31.2 31.2 0 1 1 800.86,152.44 A 19.8 19.8 0 1 0 814.02,162.21 Z"/>
<g transform="translate(845.4,179.2) rotate(44)"><path d="M -4.8,0.7 L -0.2,7 L 0,0" fill="none" stroke="#9a9a9a" stroke-width="1"/><path d="M 0,0 L 10,-8.5 L 26.4,-8.5" fill="none" stroke="#b0b0b0" stroke-width="1"/><path d="M 29.9,-6.5 L 38.6,-0.2" fill="none" stroke="#a0a0a0" stroke-width="1"/><ellipse cx="28.4" cy="-8.5" rx="1.9" ry="3.2" fill="none" stroke="#666" stroke-width="0.9"/><path d="M 0,-0.4 L 9.9,7.1000000000000005 L 28.5,7.1000000000000005 L 38.6,-0.6000000000000001 L 38.800000000000004,0.2 L 29.099999999999998,9.5 L 9.3,9.5 L -0.1,0.4 Z" fill="#4a4a4a"/><path d="M 38.3,-5.7 L 47.2,8.6 L 47.85,2.26" fill="none" stroke="#9a9a9a" stroke-width="1"/><path d="M 47.85,2.26 L 57.85,-6.24 L 74.25,-6.24" fill="none" stroke="#b0b0b0" stroke-width="1"/><path d="M 77.75,-4.24 L 86.45,2.0599999999999996" fill="none" stroke="#a0a0a0" stroke-width="1"/><ellipse cx="76.25" cy="-6.24" rx="1.9" ry="3.2" fill="none" stroke="#666" stroke-width="0.9"/><path d="M 47.85,1.8599999999999999 L 57.75,9.360000000000001 L 76.35,9.360000000000001 L 86.45,1.6599999999999997 L 86.65,2.4599999999999995 L 76.95,11.76 L 57.15,11.76 L 47.75,2.6599999999999997 Z" fill="#4a4a4a"/><path d="M 86.15,-3.44 L 91.45,6.56" fill="none" stroke="#9a9a9a" stroke-width="1"/></g>
<text x="902" y="213.9" font-size="17.6" font-weight="bold" text-anchor="start" fill="#000">Cellobiose</text>
<line x1="354.7" y1="387" x2="354.7" y2="423" stroke="#231815" stroke-width="3"/><path d="M 354.7,371 L 364.3,393 L 354.7,390.2 L 345.09999999999997,393 Z" fill="#231815"/>
<text x="353" y="443" font-size="17.7" font-weight="bold" text-anchor="middle" fill="#000">CipA942a</text>
<text x="353.5" y="463.7" font-size="17.7" font-weight="bold" text-anchor="middle" fill="#000">(CipA-ΔCBM-2)</text>
<line x1="515.5" y1="387" x2="515.5" y2="423" stroke="#231815" stroke-width="3"/><path d="M 515.5,371 L 525.1,393 L 515.5,390.2 L 505.9,393 Z" fill="#231815"/>
<text x="512.4" y="443" font-size="17.7" font-weight="bold" text-anchor="middle" fill="#000">CipA1827s</text>
<text x="513" y="463.7" font-size="17.7" font-weight="bold" text-anchor="middle" fill="#000">(CipA-Δ6CohI)</text>
<path d="M 402.8,263 L 424.9,263 L 424.9,246" fill="none" stroke="#231815" stroke-width="3"/>
<path d="M 424.9,226.7 L 434,248.4 L 424.9,244.5 L 415.8,248.4 Z" fill="#231815"/>
<text x="332.8" y="244.9" font-size="17.7" font-weight="bold" text-anchor="middle" fill="#000">CipA1158a</text>
<text x="332.5" y="266.9" font-size="17.7" font-weight="bold" text-anchor="middle" fill="#000">(CipA-ΔCBM-1)</text>
<text x="132.7" y="375.9" font-size="29.2" font-weight="bold" text-anchor="middle" fill="#000">CipA</text>
<g transform="translate(949.2,423.6) rotate(0) scale(1.0,1.0)"><path d="M -7.2,10.8 L 7.2,10.8 L 7.2,15 A 9.8 9.8 0 0 0 26.8,15 L 26.8,12 A 26.8 12 0 0 0 -26.8,12 L -26.8,15 A 9.8 9.8 0 0 0 -7.2,15 Z" fill="#9fce47"/></g>
<circle cx="949.3" cy="405.5" r="18.2" fill="url(#gX)"/>
<g transform="translate(950.4,508.3) rotate(0) scale(1.0)"><path d="M -25.7,-55.5 A 12.85 15 0 0 0 0,-55.5 A 12.85 15 0 0 0 25.7,-55.5 A 28.6 24 0 1 1 -25.7,-55.5 Z" fill="#84c225"/><circle r="28.5" fill="url(#gGreen)"/></g>
<line x1="955" y1="534.3" x2="1032" y2="534.3" stroke="#dadada" stroke-width="4.5"/>
<path d="M 1028.6,374.3 L 1028.6,403.8 L 987,403.8" fill="none" stroke="#231815" stroke-width="3"/>
<path d="M 970.4,403.8 L 992,394.3 L 989.2,403.8 L 992,413.3 Z" fill="#231815"/>
<text x="1030.5" y="345.3" font-size="17.7" font-weight="bold" text-anchor="middle" fill="#000">CipA3740s</text>
<text x="1031" y="366.2" font-size="17.7" font-weight="bold" text-anchor="middle" fill="#000">(CipA-ΔXDocII)</text>
<text x="851.5" y="526.7" font-size="29.2" font-weight="bold" text-anchor="middle" fill="#000">SdbA</text>
<line x1="950.8" y1="554.5" x2="950.8" y2="579" stroke="#231815" stroke-width="3"/><path d="M 950.8,538.5 L 960.4,560.5 L 950.8,557.7 L 941.1999999999999,560.5 Z" fill="#231815"/>
<text x="949" y="597.9" font-size="17.7" font-weight="bold" text-anchor="middle" fill="#000">Sdb124s</text>
<text x="949" y="618.2" font-size="17.7" font-weight="bold" text-anchor="middle" fill="#000">(ΔSdbA)</text>
<line x1="890" y1="727.3" x2="1016" y2="727.3" stroke="#dadada" stroke-width="4.5"/>
<g transform="translate(865.9,728.2) rotate(-90) scale(1.0)"><path d="M -25.7,-55.5 A 12.85 15 0 0 0 0,-55.5 A 12.85 15 0 0 0 25.7,-55.5 A 28.6 24 0 1 1 -25.7,-55.5 Z" fill="#84c225"/><circle r="28.5" fill="url(#gGreen)"/></g>
<g transform="translate(961.8,702.5) rotate(0) scale(1.0)"><path d="M -25.7,-55.5 A 12.85 15 0 0 0 0,-55.5 A 12.85 15 0 0 0 25.7,-55.5 A 28.6 24 0 1 1 -25.7,-55.5 Z" fill="#84c225"/><circle r="28.5" fill="url(#gGreen)"/></g>
<line x1="863.8" y1="773.8" x2="863.8" y2="800" stroke="#231815" stroke-width="3"/><path d="M 863.8,757.8 L 873.4,779.8 L 863.8,777.0 L 854.1999999999999,779.8 Z" fill="#231815"/>
<text x="739" y="736.1" font-size="29.2" font-weight="bold" text-anchor="middle" fill="#000">Orf2p</text>
<text x="864.5" y="817.7" font-size="17.7" font-weight="bold" text-anchor="middle" fill="#000">Orf2p_322s</text>
<text x="864" y="837.7" font-size="17.7" font-weight="bold" text-anchor="middle" fill="#000">(ΔOrf2p)</text>
<line x1="560" y1="945" x2="1026" y2="945" stroke="#dadada" stroke-width="4.5"/>
<g transform="translate(544,943.4) rotate(-90) scale(1.0)"><path d="M -25.7,-55.5 A 12.85 15 0 0 0 0,-55.5 A 12.85 15 0 0 0 25.7,-55.5 A 28.6 24 0 1 1 -25.7,-55.5 Z" fill="#84c225"/><circle r="28.5" fill="url(#gGreen)"/></g>
<g transform="translate(626,919.3) rotate(0) scale(1.0)"><path d="M -25.7,-55.5 A 12.85 15 0 0 0 0,-55.5 A 12.85 15 0 0 0 25.7,-55.5 A 28.6 24 0 1 1 -25.7,-55.5 Z" fill="#84c225"/><circle r="28.5" fill="url(#gGreen)"/></g>
<g transform="translate(769.3,919.3) rotate(0) scale(1.0)"><path d="M -25.7,-55.5 A 12.85 15 0 0 0 0,-55.5 A 12.85 15 0 0 0 25.7,-55.5 A 28.6 24 0 1 1 -25.7,-55.5 Z" fill="#84c225"/><circle r="28.5" fill="url(#gGreen)"/></g>
<g transform="translate(907.4,919.3) rotate(0) scale(1.0)"><path d="M -25.7,-55.5 A 12.85 15 0 0 0 0,-55.5 A 12.85 15 0 0 0 25.7,-55.5 A 28.6 24 0 1 1 -25.7,-55.5 Z" fill="#84c225"/><circle r="28.5" fill="url(#gGreen)"/></g>
<g transform="translate(693.3,971.4) rotate(180) scale(1.0)"><path d="M -25.7,-55.5 A 12.85 15 0 0 0 0,-55.5 A 12.85 15 0 0 0 25.7,-55.5 A 28.6 24 0 1 1 -25.7,-55.5 Z" fill="#84c225"/><circle r="28.5" fill="url(#gGreen)"/></g>
<g transform="translate(844.9,971.4) rotate(180) scale(1.0)"><path d="M -25.7,-55.5 A 12.85 15 0 0 0 0,-55.5 A 12.85 15 0 0 0 25.7,-55.5 A 28.6 24 0 1 1 -25.7,-55.5 Z" fill="#84c225"/><circle r="28.5" fill="url(#gGreen)"/></g>
<g transform="translate(975.4,971.4) rotate(180) scale(1.0)"><path d="M -25.7,-55.5 A 12.85 15 0 0 0 0,-55.5 A 12.85 15 0 0 0 25.7,-55.5 A 28.6 24 0 1 1 -25.7,-55.5 Z" fill="#84c225"/><circle r="28.5" fill="url(#gGreen)"/></g>
<line x1="542.1" y1="989.4" x2="542.1" y2="1014.4" stroke="#231815" stroke-width="3"/><path d="M 542.1,973.4 L 551.7,995.4 L 542.1,992.6 L 532.5,995.4 Z" fill="#231815"/>
<text x="426" y="951.8" font-size="29.2" font-weight="bold" text-anchor="middle" fill="#000">OlpB</text>
<text x="542" y="1031.9" font-size="17.7" font-weight="bold" text-anchor="middle" fill="#000">OlpB135s</text>
<text x="541.5" y="1052.7" font-size="17.7" font-weight="bold" text-anchor="middle" fill="#000">(ΔOlpB)</text>
<line x1="280" y1="1168.3" x2="700" y2="1168.3" stroke="#dadada" stroke-width="4.5"/>
<g transform="translate(269.1,1168.3) rotate(-90) scale(1.0)"><path d="M -25.7,-55.5 A 12.85 15 0 0 0 0,-55.5 A 12.85 15 0 0 0 25.7,-55.5 A 28.6 24 0 1 1 -25.7,-55.5 Z" fill="#84c225"/><circle r="28.5" fill="url(#gGreen)"/></g>
<g transform="translate(714.3,1169) rotate(90) scale(1.0)"><path d="M -25.7,-55.5 A 12.85 15 0 0 0 0,-55.5 A 12.85 15 0 0 0 25.7,-55.5 A 28.6 24 0 1 1 -25.7,-55.5 Z" fill="#84c225"/><circle r="28.5" fill="url(#gGreen)"/></g>
<g transform="translate(346.5,1142.8) rotate(0) scale(1.0)"><path d="M -25.7,-55.5 A 12.85 15 0 0 0 0,-55.5 A 12.85 15 0 0 0 25.7,-55.5 A 28.6 24 0 1 1 -25.7,-55.5 Z" fill="#84c225"/><circle r="28.5" fill="url(#gGreen)"/></g>
<g transform="translate(493.7,1142.8) rotate(0) scale(1.0)"><path d="M -25.7,-55.5 A 12.85 15 0 0 0 0,-55.5 A 12.85 15 0 0 0 25.7,-55.5 A 28.6 24 0 1 1 -25.7,-55.5 Z" fill="#84c225"/><circle r="28.5" fill="url(#gGreen)"/></g>
<g transform="translate(631.8,1142.8) rotate(0) scale(1.0)"><path d="M -25.7,-55.5 A 12.85 15 0 0 0 0,-55.5 A 12.85 15 0 0 0 25.7,-55.5 A 28.6 24 0 1 1 -25.7,-55.5 Z" fill="#84c225"/><circle r="28.5" fill="url(#gGreen)"/></g>
<g transform="translate(417.5,1195.8) rotate(180) scale(1.0)"><path d="M -25.7,-55.5 A 12.85 15 0 0 0 0,-55.5 A 12.85 15 0 0 0 25.7,-55.5 A 28.6 24 0 1 1 -25.7,-55.5 Z" fill="#84c225"/><circle r="28.5" fill="url(#gGreen)"/></g>
<g transform="translate(569.3,1195.8) rotate(180) scale(1.0)"><path d="M -25.7,-55.5 A 12.85 15 0 0 0 0,-55.5 A 12.85 15 0 0 0 25.7,-55.5 A 28.6 24 0 1 1 -25.7,-55.5 Z" fill="#84c225"/><circle r="28.5" fill="url(#gGreen)"/></g>
<line x1="343.6" y1="1188" x2="343.6" y2="1213" stroke="#231815" stroke-width="3"/><path d="M 343.6,1172 L 353.20000000000005,1194 L 343.6,1191.2 L 334.0,1194 Z" fill="#231815"/>
<text x="143.3" y="1177.6" font-size="29.2" font-weight="bold" text-anchor="middle" fill="#000">7CohII</text>
<text x="344.5" y="1232.8" font-size="17.7" font-weight="bold" text-anchor="middle" fill="#000">7CohII735s</text>
<text x="344.6" y="1253.2" font-size="17.7" font-weight="bold" text-anchor="middle" fill="#000">(Δ7CohII)</text>
<ellipse cx="1129.6" cy="744.5" rx="68.7" ry="365" fill="#cdc3bb"/>
<ellipse cx="1129.6" cy="745" rx="60.5" ry="356" fill="url(#gCell)"/>
<text x="1132.4" y="741.4" font-size="37.5" font-weight="bold" text-anchor="middle" fill="#000">Cell</text>
<path d="M 1037.5,482.0 L 1070.5,482.0 L 1084,491.15 L 1070.5,500.3 L 1037.5,500.3 Q 1031,500.3 1031,493.8 L 1031,488.5 Q 1031,482.0 1037.5,482.0 Z" fill="url(#gSLH)" stroke="#d09a58" stroke-width="1"/>
<path d="M 1037.5,502.7 L 1070.5,502.7 L 1084,511.84999999999997 L 1070.5,521.0 L 1037.5,521.0 Q 1031,521.0 1031,514.5 L 1031,509.2 Q 1031,502.7 1037.5,502.7 Z" fill="url(#gSLH)" stroke="#d09a58" stroke-width="1"/>
<path d="M 1037.5,523.4 L 1070.5,523.4 L 1084,532.55 L 1070.5,541.6999999999999 L 1037.5,541.6999999999999 Q 1031,541.6999999999999 1031,535.1999999999999 L 1031,529.9 Q 1031,523.4 1037.5,523.4 Z" fill="url(#gSLH)" stroke="#d09a58" stroke-width="1"/>
<path d="M 1021.5,677.6 L 1054.5,677.6 L 1068,686.75 L 1054.5,695.9 L 1021.5,695.9 Q 1015,695.9 1015,689.4 L 1015,684.1 Q 1015,677.6 1021.5,677.6 Z" fill="url(#gSLH)" stroke="#d09a58" stroke-width="1"/>
<path d="M 1021.5,698.3000000000001 L 1054.5,698.3000000000001 L 1068,707.45 L 1054.5,716.6 L 1021.5,716.6 Q 1015,716.6 1015,710.1 L 1015,704.8000000000001 Q 1015,698.3000000000001 1021.5,698.3000000000001 Z" fill="url(#gSLH)" stroke="#d09a58" stroke-width="1"/>
<path d="M 1021.5,719.0 L 1054.5,719.0 L 1068,728.15 L 1054.5,737.3 L 1021.5,737.3 Q 1015,737.3 1015,730.8 L 1015,725.5 Q 1015,719.0 1021.5,719.0 Z" fill="url(#gSLH)" stroke="#d09a58" stroke-width="1"/>
<path d="M 1031.7,894.4 L 1064.7,894.4 L 1078.2,903.55 L 1064.7,912.6999999999999 L 1031.7,912.6999999999999 Q 1025.2,912.6999999999999 1025.2,906.1999999999999 L 1025.2,900.9 Q 1025.2,894.4 1031.7,894.4 Z" fill="url(#gSLH)" stroke="#d09a58" stroke-width="1"/>
<path d="M 1031.7,915.1 L 1064.7,915.1 L 1078.2,924.25 L 1064.7,933.4 L 1031.7,933.4 Q 1025.2,933.4 1025.2,926.9 L 1025.2,921.6 Q 1025.2,915.1 1031.7,915.1 Z" fill="url(#gSLH)" stroke="#d09a58" stroke-width="1"/>
<path d="M 1031.7,935.8 L 1064.7,935.8 L 1078.2,944.9499999999999 L 1064.7,954.0999999999999 L 1031.7,954.0999999999999 Q 1025.2,954.0999999999999 1025.2,947.5999999999999 L 1025.2,942.3 Q 1025.2,935.8 1031.7,935.8 Z" fill="url(#gSLH)" stroke="#d09a58" stroke-width="1"/>
<rect x="112.8" y="500.9" width="464.6" height="307" fill="none" stroke="#231815" stroke-width="2.5"/>
<text x="189.3" y="526.3" font-size="20" font-weight="normal" text-anchor="middle" fill="#000">Type I Cohesin</text>
<text x="182.6" y="550.9" font-size="20" font-weight="normal" text-anchor="middle" fill="#000">(CohI)</text>
<text x="188.8" y="604.9" font-size="20" font-weight="normal" text-anchor="middle" fill="#000">Type II Cohesin</text>
<text x="182.7" y="628.5" font-size="20" font-weight="normal" text-anchor="middle" fill="#000">(CohII)</text>
<text x="497.5" y="526.3" font-size="20" font-weight="normal" text-anchor="middle" fill="#000">Type I Dockerin</text>
<text x="488" y="550.9" font-size="20" font-weight="normal" text-anchor="middle" fill="#000">(DocI)</text>
<text x="497.5" y="604.9" font-size="20" font-weight="normal" text-anchor="middle" fill="#000">Type II Dockerin</text>
<text x="489.5" y="628.5" font-size="20" font-weight="normal" text-anchor="middle" fill="#000">(XDocII)</text>
<text x="191.2" y="706.4" font-size="20" font-weight="normal" text-anchor="middle" fill="#000">CBM</text>
<text x="500.3" y="704.5" font-size="17.8" font-weight="normal" text-anchor="middle" fill="#000">Enzyme</text>
<text x="191.2" y="780.7" font-size="20" font-weight="normal" text-anchor="middle" fill="#000">SLH</text>
<text x="498.5" y="770.8" font-size="20" font-weight="normal" text-anchor="middle" fill="#000">Targetron</text>
<text x="500.3" y="796" font-size="20" font-weight="normal" text-anchor="middle" fill="#000">Insertion site</text>
<g transform="translate(290.7,531.5) rotate(90) scale(0.75)"><path d="M -25.7,-55.5 A 12.85 15 0 0 0 0,-55.5 A 12.85 15 0 0 0 25.7,-55.5 A 28.6 24 0 1 1 -25.7,-55.5 Z" fill="#55b8ec"/><rect x="-5.7" y="-55.5" width="11.4" height="16" fill="#55b8ec"/><circle r="28.5" fill="url(#gBlue)"/></g>
<g transform="translate(290.7,609.1) rotate(90) scale(0.75)"><path d="M -25.7,-55.5 A 12.85 15 0 0 0 0,-55.5 A 12.85 15 0 0 0 25.7,-55.5 A 28.6 24 0 1 1 -25.7,-55.5 Z" fill="#84c225"/><rect x="-5.7" y="-55.5" width="11.4" height="16" fill="#84c225"/><circle r="28.5" fill="url(#gGreen)"/></g>
<g transform="translate(398,531.5) rotate(90) scale(0.75,0.75)"><path d="M -7.2,10.8 L 7.2,10.8 L 7.2,15 A 9.8 9.8 0 0 0 26.8,15 L 26.8,12 A 26.8 12 0 0 0 -26.8,12 L -26.8,15 A 9.8 9.8 0 0 0 -7.2,15 Z" fill="#55b8ec"/></g>
<circle cx="397.5" cy="611.5" r="13.7" fill="url(#gX)"/>
<g transform="translate(384,610) rotate(90) scale(0.75,0.75)"><path d="M -7.2,10.8 L 7.2,10.8 L 7.2,15 A 9.8 9.8 0 0 0 26.8,15 L 26.8,12 A 26.8 12 0 0 0 -26.8,12 L -26.8,15 A 9.8 9.8 0 0 0 -7.2,15 Z" fill="#9fce47"/></g>
<g transform="translate(0,1393.8) scale(1,-1)"><path d="M 275.1,679 L 277.3,677 A 3.9250000000000003 7.4 0 0 0 285.15000000000003,679.3 A 3.9250000000000003 7.4 0 0 0 293.0,679.3 A 3.9250000000000003 7.4 0 0 0 300.85,679.3 A 3.9250000000000003 7.4 0 0 0 308.7,679.3 A 3.9250000000000003 7.4 0 0 0 316.55,679.3 A 3.9250000000000003 7.4 0 0 0 324.40000000000003,677 L 326.6,679 L 326.6,708.8 Q 326.6,716.8 318.6,716.8 L 283.1,716.8 Q 275.1,716.8 275.1,708.8 Z" fill="url(#gCBM)"/></g>
<path fill="url(#gEnz1)" d="M 394.33,676.44 A 23.4 23.4 0 1 1 384.03,676.31 A 15.6 15.6 0 1 0 394.33,676.44 Z"/>
<g transform="translate(293.0,752.2) rotate(90)"><path d="M 6.5,0 L 29.200000000000003,0 L 40.2,7.1 L 29.200000000000003,14.2 L 6.5,14.2 Q 0,14.2 0,7.699999999999999 L 0,6.5 Q 0,0 6.5,0 Z" fill="url(#gSLH)" stroke="#d09a58" stroke-width="0.8"/></g>
<g transform="translate(308.3,752.2) rotate(90)"><path d="M 6.5,0 L 29.200000000000003,0 L 40.2,7.1 L 29.200000000000003,14.2 L 6.5,14.2 Q 0,14.2 0,7.699999999999999 L 0,6.5 Q 0,0 6.5,0 Z" fill="url(#gSLH)" stroke="#d09a58" stroke-width="0.8"/></g>
<g transform="translate(323.6,752.2) rotate(90)"><path d="M 6.5,0 L 29.200000000000003,0 L 40.2,7.1 L 29.200000000000003,14.2 L 6.5,14.2 Q 0,14.2 0,7.699999999999999 L 0,6.5 Q 0,0 6.5,0 Z" fill="url(#gSLH)" stroke="#d09a58" stroke-width="0.8"/></g>
<line x1="388.2" y1="767.8" x2="388.2" y2="795.4" stroke="#231815" stroke-width="3"/><path d="M 388.2,752.8 L 397.7,773.8 L 388.2,771.0 L 378.7,773.8 Z" fill="#231815"/>
</svg></body></html>
